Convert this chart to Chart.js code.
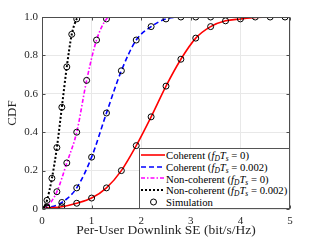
<!DOCTYPE html>
<html>
<head>
<meta charset="utf-8">
<script src="https://cdn.jsdelivr.net/npm/chart.js@4"></script>
<style>
html,body{margin:0;padding:0;background:#fff;}
#wrap{position:relative;width:321px;height:241px;}
#legend{position:absolute;left:139px;top:148px;width:151px;height:61px;box-sizing:border-box;border:1px solid #555;background:#fff;padding-top:0px;font-family:"Liberation Serif",serif;font-size:10.7px;color:#000;}
.row{height:11.8px;display:flex;align-items:center;white-space:nowrap;}
.row svg{flex:none;margin-left:1px;margin-right:1px;}
sub{font-size:7.5px;vertical-align:-2px;line-height:0;}
</style>
</head>
<body>
<div id="wrap">
<canvas id="c"></canvas>
<div id="legend">
  <div class="row"><svg width="24" height="10"><line x1="0" y1="5" x2="24" y2="5" stroke="#ff0000" stroke-width="1.6"/></svg><span>Coherent (<i>f<sub>D</sub>T<sub>s</sub></i> = 0)</span></div>
  <div class="row"><svg width="24" height="10"><line x1="0" y1="5" x2="24" y2="5" stroke="#0000ff" stroke-width="1.6" stroke-dasharray="5,3"/></svg><span>Coherent (<i>f<sub>D</sub>T<sub>s</sub></i> = 0.002)</span></div>
  <div class="row"><svg width="24" height="10"><line x1="0" y1="5" x2="24" y2="5" stroke="#ff00ff" stroke-width="1.6" stroke-dasharray="4,2,1.5,2"/></svg><span>Non-coherent (<i>f<sub>D</sub>T<sub>s</sub></i> = 0)</span></div>
  <div class="row"><svg width="24" height="10"><line x1="0" y1="5" x2="24" y2="5" stroke="#000" stroke-width="2" stroke-dasharray="2,2"/></svg><span>Non-coherent (<i>f<sub>D</sub>T<sub>s</sub></i> = 0.002)</span></div>
  <div class="row"><svg width="24" height="10"><circle cx="12.5" cy="5" r="3" fill="none" stroke="#000" stroke-width="1"/></svg><span>Simulation</span></div>
</div>
</div>
<script>
// ---- data ----
const xTicks = [0, 1, 2, 3, 4, 5];
const yTicks = [0, 0.2, 0.4, 0.6, 0.8, 1];

const cohSimX = [0.1, 0.4, 0.7, 1.0, 1.3, 1.6, 1.9, 2.2, 2.5, 2.8, 3.1, 3.4, 3.7, 4.0, 4.3, 4.6, 4.9];
const coh0SimY = [0.005, 0.012, 0.03, 0.057, 0.11, 0.2, 0.33, 0.48, 0.64, 0.78, 0.89, 0.95, 0.98, 0.99, 1.0, 1.0, 1.0];
const coh2SimX = [0.1, 0.4, 0.7, 1.0, 1.3, 1.6, 1.9, 2.2, 2.5, 2.8, 3.1, 3.4];
const coh2SimY = [0.005, 0.034, 0.11, 0.27, 0.5, 0.72, 0.88, 0.95, 0.99, 1.0, 1.0, 1.0];
const nc0SimX = [0.1, 0.3, 0.5, 0.7, 0.9, 1.1, 1.3];
const nc0SimY = [0.01, 0.09, 0.24, 0.4, 0.67, 0.88, 0.99];
const nc2SimX = [0.05, 0.1, 0.2, 0.3, 0.4, 0.5, 0.6, 0.7];
const nc2SimY = [0.0, 0.045, 0.16, 0.32, 0.53, 0.74, 0.91, 0.99];

// analytic curves (sim points plus read end points)
const coh0LineX = [0, 0.1, 0.4, 0.7, 1.0, 1.3, 1.6, 1.9, 2.2, 2.5, 2.8, 3.1, 3.4, 3.7, 4.0, 4.3, 4.6, 5.0];
const coh0LineY = [0, 0.005, 0.012, 0.03, 0.057, 0.11, 0.2, 0.33, 0.48, 0.64, 0.78, 0.89, 0.95, 0.98, 0.99, 0.998, 1.0, 1.0];
const coh2LineX = [0.03, 0.1, 0.4, 0.7, 1.0, 1.3, 1.6, 1.9, 2.2, 2.5, 2.8, 3.1, 3.4];
const coh2LineY = [0, 0.005, 0.034, 0.11, 0.27, 0.5, 0.72, 0.88, 0.95, 0.99, 1.0, 1.0, 1.0];
const nc0LineX = [0.05, 0.1, 0.3, 0.5, 0.7, 0.9, 1.1, 1.3, 1.37];
const nc0LineY = [0, 0.01, 0.09, 0.24, 0.4, 0.67, 0.88, 0.99, 1.0];
const nc2LineX = [0.03, 0.1, 0.2, 0.3, 0.4, 0.5, 0.6, 0.7, 0.73];
const nc2LineY = [0, 0.045, 0.16, 0.32, 0.53, 0.74, 0.91, 0.99, 1.0];

const pts = (xs, ys) => xs.map((x, i) => ({x: x, y: ys[i]}));
const serif = '"Liberation Serif", "Times New Roman", serif';
const axisColor = '#4d4d4d';

function lineDs(xs, ys, color, dash, w) {
  return {type: 'line', data: pts(xs, ys), borderColor: color, borderWidth: w, borderDash: dash,
    pointRadius: 0, fill: false, cubicInterpolationMode: 'monotone', order: 2};
}
function simDs(xs, ys) {
  return {type: 'scatter', data: pts(xs, ys), borderColor: '#000', backgroundColor: 'rgba(0,0,0,0)',
    borderWidth: 1, pointRadius: 3, pointHoverRadius: 3, showLine: false, order: 1};
}

const boxPlugin = {
  id: 'box',
  afterDatasetsDraw(chart) {
    const {ctx, chartArea: a, scales: {x, y}} = chart;
    ctx.save();
    ctx.strokeStyle = axisColor;
    ctx.lineWidth = 1;
    const L = Math.round(a.left) + 0.5, R = Math.round(a.right) - 0.5;
    const T = Math.round(a.top) + 0.5, B = Math.round(a.bottom) - 0.5;
    ctx.strokeRect(L, T, R - L, B - T);
    ctx.beginPath();
    xTicks.forEach(v => {
      const p = Math.round(x.getPixelForValue(v)) + 0.5;
      ctx.moveTo(p, B); ctx.lineTo(p, B - 3);
      ctx.moveTo(p, T); ctx.lineTo(p, T + 3);
    });
    yTicks.forEach(v => {
      const p = Math.round(y.getPixelForValue(v)) + 0.5;
      ctx.moveTo(L, p); ctx.lineTo(L + 3, p);
      ctx.moveTo(R, p); ctx.lineTo(R - 3, p);
    });
    ctx.stroke();
    ctx.restore();
  }
};

new Chart(document.getElementById('c'), {
  data: {
    datasets: [
      lineDs(coh0LineX, coh0LineY, '#ff0000', [], 1.6),
      lineDs(coh2LineX, coh2LineY, '#0000ff', [5, 3], 1.6),
      lineDs(nc0LineX, nc0LineY, '#ff00ff', [4, 2, 1.5, 2], 1.6),
      lineDs(nc2LineX, nc2LineY, '#000000', [2, 2], 2),
      simDs(cohSimX, coh0SimY),
      simDs(coh2SimX, coh2SimY),
      simDs(nc0SimX, nc0SimY),
      simDs(nc2SimX, nc2SimY)
    ]
  },
  options: {
    responsive: true,
    maintainAspectRatio: false,
    animation: false,
    events: [],
    layout: {padding: {top: 17, right: 31, left: 0, bottom: 0}},
    plugins: {legend: {display: false}, tooltip: {enabled: false}},
    scales: {
      x: {
        type: 'linear', min: 0, max: 5,
        afterBuildTicks: s => { s.ticks = xTicks.map(v => ({value: v})); },
        afterFit: s => { s.height = 32; },
        ticks: {padding: 6, color: '#262626', font: {family: serif, size: 11}},
        grid: {color: '#e8e8e8', drawTicks: false},
        border: {display: false},
        title: {display: true, text: 'Per-User Downlink SE (bit/s/Hz)', color: '#262626',
          font: {family: serif, size: 13.5}, padding: {top: 0, bottom: 2}}
      },
      y: {
        type: 'linear', min: 0, max: 1,
        afterBuildTicks: s => { s.ticks = yTicks.map(v => ({value: v})); },
        afterFit: s => { s.width = 42; },
        ticks: {padding: 4, color: '#262626', font: {family: serif, size: 11}},
        grid: {color: '#e8e8e8', drawTicks: false},
        border: {display: false},
        title: {display: true, text: 'CDF', color: '#262626',
          font: {family: serif, size: 13}, padding: {top: 5, bottom: 0}}
      }
    }
  },
  plugins: [boxPlugin]
});
</script>
</body>
</html>
